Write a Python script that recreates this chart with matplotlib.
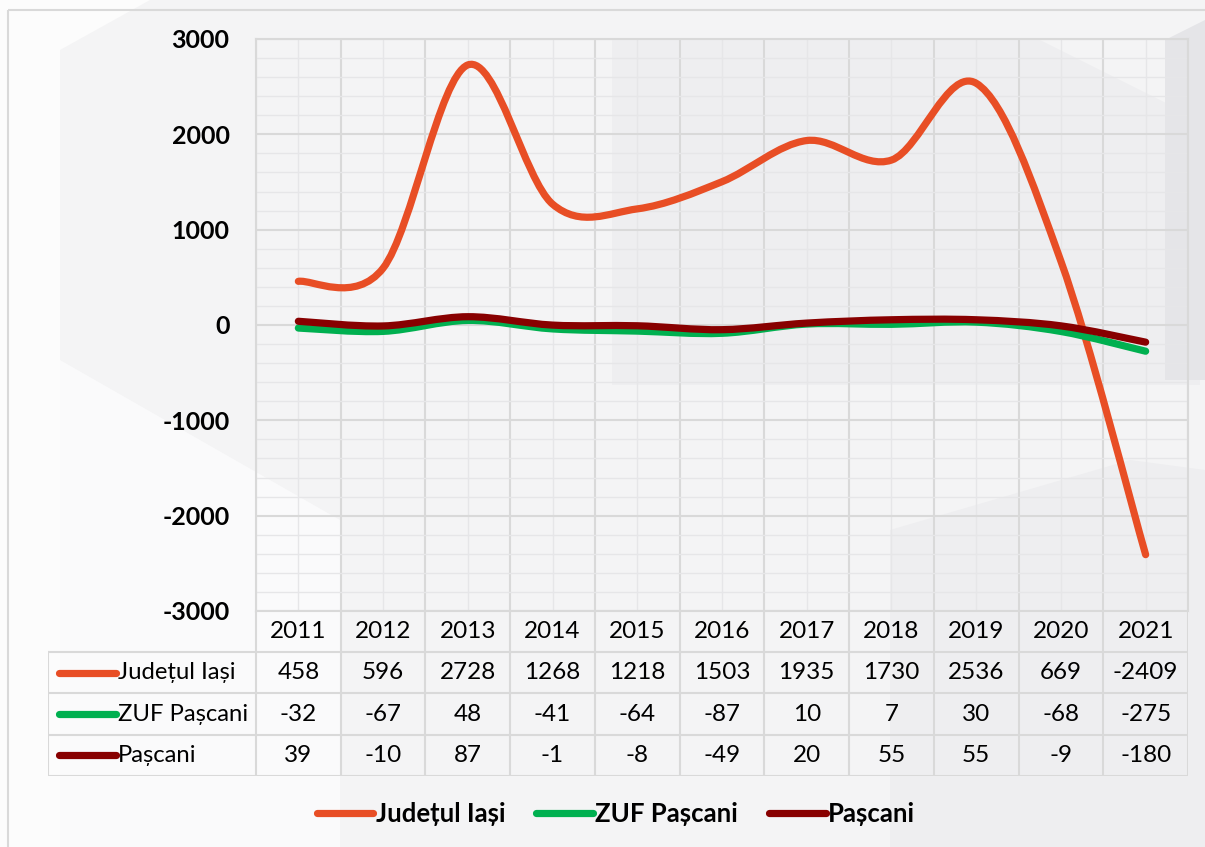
import numpy as np
import matplotlib.pyplot as plt
from matplotlib.path import Path
from matplotlib.patches import PathPatch, Polygon, Rectangle
from matplotlib.lines import Line2D

plt.rcParams['font.family'] = ['Lato', 'Open Sans', 'DejaVu Sans']
plt.rcParams['axes.unicode_minus'] = False

years = ['2011', '2012', '2013', '2014', '2015', '2016', '2017', '2018', '2019', '2020', '2021']
iasi = [458, 596, 2728, 1268, 1218, 1503, 1935, 1730, 2536, 669, -2409]
zuf = [-32, -67, 48, -41, -64, -87, 10, 7, 30, -68, -275]
pascani = [39, -10, 87, -1, -8, -49, 20, 55, 55, -9, -180]
names = ['Județul Iași', 'ZUF Pașcani', 'Pașcani']
colors = ['#E84E25', '#00B050', '#880000']
series = [iasi, zuf, pascani]

W, H = 1205, 847
fig = plt.figure(figsize=(W / 100, H / 100), dpi=100, facecolor='#f4f4f5')


def px(x0, y0, x1, y1):
    # pixel box -> figure fraction [left, bottom, width, height]
    return [x0 / W, 1 - y1 / H, (x1 - x0) / W, (y1 - y0) / H]


# background shapes (soft hexagon look)
bg = fig.add_axes([0, 0, 1, 1], zorder=-10)
bg.set_xlim(0, W)
bg.set_ylim(H, 0)
bg.axis('off')
bg.add_patch(Polygon([[0, 0], [150, 0], [60, 50], [60, 847], [0, 847]], color='#fcfcfc', lw=0))
bg.add_patch(Polygon([[60, 360], [340, 520], [340, 847], [60, 847]], color='#fafafb', lw=0))
bg.add_patch(Polygon([[612, 40], [1040, 40], [1200, 120], [1200, 385], [612, 385]], color='#eeeef0', lw=0))
bg.add_patch(Polygon([[1165, 40], [1205, 20], [1205, 380], [1165, 380]], color='#e5e5e8', lw=0))
bg.add_patch(Polygon([[890, 530], [1130, 460], [1205, 470], [1205, 847], [890, 847]], color='#eeeef0', lw=0))
bg.add_patch(Rectangle((8, 10), 1300, 900, fill=False, ec='#d9d9d9', lw=1.5))

# main plot
ax = fig.add_axes(px(256, 39, 1188, 611))
ax.set_facecolor('none')
ax.set_axisbelow(True)
n = len(years)
ax.set_xlim(-0.5, n - 0.5)
ax.set_ylim(-3000, 3000)
ax.set_yticks(np.arange(-3000, 3001, 1000))
ax.set_yticks(np.arange(-3000, 3001, 200), minor=True)
ax.set_xticks(np.arange(-0.5, n, 1))
ax.set_xticks(np.arange(0, n, 1), minor=True)
ax.set_xticklabels([])
ax.tick_params(axis='both', which='both', length=0)
ax.tick_params(axis='y', pad=19, labelsize=18)
for lab in ax.get_yticklabels():
    lab.set_fontweight('bold')
ax.grid(which='major', color='#d9d9d9', lw=1.5)
ax.grid(which='minor', color='#e6e6e8', lw=1.0)
for s in ax.spines.values():
    s.set_color('#d9d9d9')
    s.set_linewidth(1.5)


def smooth_path(xs, ys):
    pts = np.column_stack([xs, ys]).astype(float)
    verts = [pts[0]]
    codes = [Path.MOVETO]
    for i in range(len(pts) - 1):
        p0 = pts[max(i - 1, 0)]
        p1 = pts[i]
        p2 = pts[i + 1]
        p3 = pts[min(i + 2, len(pts) - 1)]
        verts += [p1 + (p2 - p0) / 6, p2 - (p3 - p1) / 6, p2]
        codes += [Path.CURVE4] * 3
    return Path(verts, codes)


x = np.arange(n)
for vals, c in zip(series, colors):
    ax.add_patch(PathPatch(smooth_path(x, vals), fill=False, ec=c, lw=5.2,
                           capstyle='round', joinstyle='round', zorder=3))

# data table
tb = fig.add_axes(px(48, 611, 1188, 776))
tb.set_xlim(-0.5 - (256 - 48) / ((1188 - 256) / n), n - 0.5)
tb.set_ylim(4, 0)
tb.axis('off')
gc, glw = '#d9d9d9', 1.5
left = tb.get_xlim()[0]
for r in range(1, 5):
    tb.plot([left, n - 0.5], [r, r], color=gc, lw=glw)
tb.plot([left, left], [1, 4], color=gc, lw=glw)
for k in range(n + 1):
    tb.plot([k - 0.5, k - 0.5], [0, 4], color=gc, lw=glw)
for k, yr in enumerate(years):
    tb.text(k, 0.5, yr, ha='center', va='center', fontsize=17.5)
for r, (nm, vals, c) in enumerate(zip(names, series, colors)):
    yy = r + 1.5
    tb.plot([left + 0.13, left + 0.8], [yy, yy], color=c, lw=5.2, solid_capstyle='round')
    tb.text(left + 0.83, yy, nm, ha='left', va='center', fontsize=17.2)
    for k, v in enumerate(vals):
        tb.text(k, yy, str(v), ha='center', va='center', fontsize=17.5)

# legend
handles = [Line2D([], [], color=c, lw=5.2, solid_capstyle='round') for c in colors]
fig.legend(handles, names, loc='center', bbox_to_anchor=(616 / W, 1 - 814 / H), ncol=3,
           frameon=False, prop={'weight': 'bold', 'size': 18.5}, handlelength=2.2,
           handletextpad=0.1, columnspacing=1.2)

fig.savefig('out.png', dpi=100, facecolor=fig.get_facecolor())
